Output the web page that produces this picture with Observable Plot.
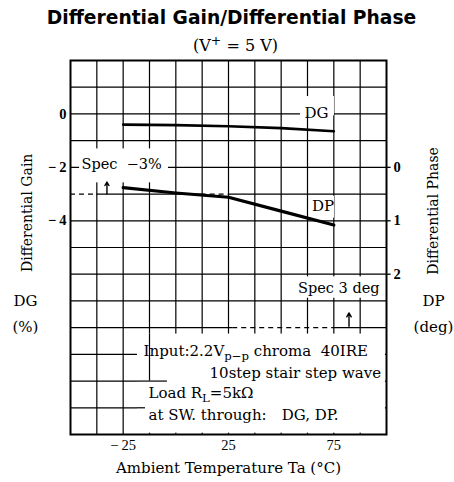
<!DOCTYPE html>
<html><head><meta charset="utf-8">
<script src="https://cdn.jsdelivr.net/npm/d3@7"></script>
<script src="https://cdn.jsdelivr.net/npm/@observablehq/plot@0.6"></script>
<style>
body{margin:0;background:#fff;}
</style></head><body><div id="chart"></div>
<script>
// ---- data ----
const temps = [-25, 0, 25, 50, 75];                 // Ambient temperature Ta (°C)
const dgPercent = [-0.40, -0.42, -0.46, -0.53, -0.65]; // Differential gain (%)
const dpDeg = [0.38, 0.48, 0.56, 0.82, 1.08];       // Differential phase (deg)
const xTickValues = [-25, 25, 75];
const dgTickValues = [0, -2, -4];
const dpTickValues = [0, 1, 2];
const specDG = -3;   // %
const specDP = 3;    // deg

// DP axis shares the plot with DG: 0 deg at -2 %, 1 deg per 2 %
const dpToDg = d => -2 - 2 * d;
const dgToDp = g => (-2 - g) / 2;

const dgTable = temps.map((t, i) => ({t, v: dgPercent[i]}));
const dpTable = temps.map((t, i) => ({t, v: dpToDg(dpDeg[i])}));

const xGrid = d3.range(-37.5, 100, 12.5);
const yGrid = d3.range(-11, 2).filter(v => v !== specDG && v !== dpToDg(specDP));

const specRows = [
  {y: specDG, x1: -37.5, x2: 12, dash: false},
  {y: specDG, x1: 25, x2: 100, dash: false},
  {y: specDG, x1: -50, x2: -37.5, dash: true},
  {y: specDG, x1: 12, x2: 25, dash: true},
  {y: dpToDg(specDP), x1: -50, x2: 27, dash: false},
  {y: dpToDg(specDP), x1: 75, x2: 100, dash: false},
  {y: dpToDg(specDP), x1: 27, x2: 75, dash: true}
];

const masks = [
  {x1: -45.7, x2: -3.5, y1: -1.31, y2: -2.58},
  {x1: 59.2, x2: 75.3, y1: 0.65, y2: -0.07},
  {x1: 63.9, x2: 75.3, y1: -3.08, y2: -3.9},
  {x1: 56.8, x2: 99.5, y1: -6.1, y2: -6.9},
  {x1: -18.2, x2: 99.5, y1: -8.24, y2: -11.95}
];
const stubsV = [{x: -12.5, y1: -8.24, y2: -10}];
const stubsH = [{y: -10, x1: -18.2, x2: -4}, {y: -11, x1: -18.2, x2: -14.4}];

const specArrows = [
  {x: -32.7, y1: specDG, y2: -2.55},
  {x: 82.2, y1: -7.95, y2: -7.45}
];

const noteLines = [
  {x: -15.3, y: -9.06, text: "Input:2.2V_{p−p} chroma  40IRE"},
  {x: 16.0, y: -9.88, text: "10step stair step wave"},
  {x: -13.0, y: -10.64, text: "Load R_{L}=5kΩ"},
  {x: -13.0, y: -11.46, text: "at SW. through:\u2002\u2002DG, DP."}
];
const seriesLabels = [
  {x: 66.8, y: -0.14, text: "DG"},
  {x: 69.9, y: -3.63, text: "DP"}
];
const specLabelLeft = [{x: -44.8, y: -2.05, text: "Spec  −3%"}];
const specLabelRight = [{x: 96.7, y: -6.7, text: "Spec 3 deg"}];
const sideTitles = [
  {x: -70.4, y: -3.7, text: "Differential Gain"},
  {x: 122.3, y: -3.63, text: "Differential Phase"}
];
const unitLabels = [
  {x: -71.4, y: -7.0, text: "DG"},
  {x: -71.4, y: -8.0, text: "(%)"},
  {x: 122.3, y: -7.0, text: "DP"},
  {x: 122.3, y: -7.97, text: "(deg)"}
];
const xTitle = [{x: 25, y: -13.26, text: "Ambient Temperature Ta (°C)"}];
const title = ["Differential Gain/Differential Phase"];
const subtitle = ["(V^{+} = 5 V)"];

const fmt = d => d < 0 ? "−\u2009" + Math.abs(d) : String(d);
const serif = "DejaVu Serif";
const tickFont = "Liberation Serif";

const plot = Plot.plot({
  width: 454, height: 482,
  marginLeft: 70, marginRight: 68, marginTop: 60, marginBottom: 48,
  x: {domain: [-50, 100], axis: null},
  y: {domain: [-12, 2], axis: null},
  style: {fontFamily: serif, fontSize: "14px", color: "#000", background: "#fff", overflow: "visible"},
  marks: [
    Plot.ruleX(xGrid, {stroke: "#000", strokeWidth: 1.2}),
    Plot.ruleY(yGrid, {stroke: "#000", strokeWidth: 1.2}),
    Plot.ruleY(specRows.filter(d => !d.dash), {y: "y", x1: "x1", x2: "x2", stroke: "#000", strokeWidth: 1.2}),
    Plot.ruleY(specRows.filter(d => d.dash), {y: "y", x1: "x1", x2: "x2", stroke: "#000", strokeWidth: 1.3, strokeDasharray: "5,4"}),
    Plot.rect(masks, {x1: "x1", x2: "x2", y1: "y1", y2: "y2", fill: "#fff"}),
    Plot.ruleX(stubsV, {x: "x", y1: "y1", y2: "y2", stroke: "#000", strokeWidth: 1.2}),
    Plot.ruleY(stubsH, {y: "y", x1: "x1", x2: "x2", stroke: "#000", strokeWidth: 1.2}),
    Plot.line(dgTable, {x: "t", y: "v", stroke: "#000", strokeWidth: 2.6}),
    Plot.line(dpTable, {x: "t", y: "v", stroke: "#000", strokeWidth: 3.2}),
    Plot.arrow(specArrows, {x: "x", y1: "y1", y2: "y2", stroke: "#000", strokeWidth: 1.4, headLength: 5}),
    Plot.frame({stroke: "#000", strokeWidth: 2}),
    // right-axis tick marks
    Plot.ruleY(dpTickValues.map(dpToDg), {x1: 100, x2: 102.2, stroke: "#000", strokeWidth: 1.3}),
    // tick labels
    Plot.text(dgTickValues, {y: d => d, text: fmt, frameAnchor: "left", textAnchor: "end", dx: -4, fontFamily: tickFont, fontWeight: "bold", fontSize: 14.5}),
    Plot.text(dpTickValues, {y: dpToDg, text: fmt, frameAnchor: "right", textAnchor: "start", dx: 7, fontFamily: tickFont, fontWeight: "bold", fontSize: 14.5}),
    Plot.text(xTickValues, {x: d => d, text: fmt, frameAnchor: "bottom", lineAnchor: "top", dy: 5, fontFamily: tickFont, fontSize: 14.5}),
    Plot.text(noteLines, {x: "x", y: "y", text: "text", textAnchor: "start", lineAnchor: "bottom", fontSize: 15}),
    Plot.text(seriesLabels, {x: "x", y: "y", text: "text", textAnchor: "middle", lineAnchor: "bottom", fontSize: 15}),
    Plot.text(specLabelLeft, {x: "x", y: "y", text: "text", textAnchor: "start", lineAnchor: "bottom", fontSize: 14.5}),
    Plot.text(specLabelRight, {x: "x", y: "y", text: "text", textAnchor: "end", lineAnchor: "bottom", fontSize: 14.5}),
    Plot.text(sideTitles, {x: "x", y: "y", text: "text", rotate: -90, textAnchor: "middle", lineAnchor: "middle", fontSize: 14}),
    Plot.text(unitLabels, {x: "x", y: "y", text: "text", textAnchor: "middle", lineAnchor: "middle", fontSize: 15}),
    Plot.text(xTitle, {x: "x", y: "y", text: "text", textAnchor: "middle", lineAnchor: "middle", fontSize: 15}),
    Plot.text(title, {text: d => d, frameAnchor: "top", dx: 3, dy: -37, lineAnchor: "bottom", fontFamily: "DejaVu Sans", fontWeight: "bold", fontSize: 18.7}),
    Plot.text(subtitle, {text: d => d, frameAnchor: "top", dx: 7, dy: -10, lineAnchor: "bottom", fontSize: 16})
  ]
});

// sub/superscripts: "_{..}" and "^{..}"
d3.select(plot).selectAll("text").each(function () {
  const s = this.textContent;
  if (!/[_^]\{/.test(s)) return;
  const el = d3.select(this);
  el.text(null);
  const re = /([_^])\{([^}]*)\}/g;
  let last = 0, m, shift = 0;
  const add = (txt, dy, size) => {
    const ts = el.append("tspan").text(txt);
    if (dy) ts.attr("dy", dy);
    if (size) ts.attr("font-size", size);
  };
  while ((m = re.exec(s))) {
    if (m.index > last) { add(s.slice(last, m.index), shift ? -shift : null); shift = 0; }
    const d = m[1] === "_" ? 4 : -6;
    add(m[2], shift ? d - shift : d, "78%");
    shift = d;
    last = re.lastIndex;
  }
  if (last < s.length) add(s.slice(last), shift ? -shift : null);
});

document.getElementById("chart").append(plot);
</script>
</body></html>
